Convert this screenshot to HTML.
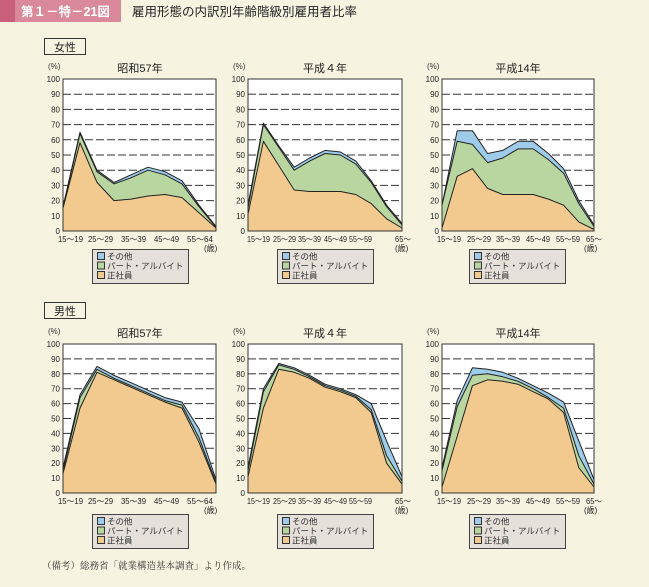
<!DOCTYPE html>
<html><head><meta charset="utf-8"><style>
body{margin:0;background:#f7f3e1;}
svg{display:block;font-family:"Liberation Sans","Noto Sans CJK JP",sans-serif;}
</style></head><body>
<svg width="649" height="587" viewBox="0 0 649 587" xmlns="http://www.w3.org/2000/svg">
<rect width="649" height="587" fill="#f7f3e1"/>
<rect x="0" y="0" width="15" height="22" fill="#c95f7a"/>
<rect x="15" y="0" width="106" height="22" fill="#d9899a"/>
<text x="21" y="16" font-size="12.5" fill="#fff" font-weight="bold">第１－特－21図</text>
<text x="132" y="16" font-size="12.5" fill="#222">雇用形態の内訳別年齢階級別雇用者比率</text>

<rect x="44.5" y="38.5" width="41" height="16" fill="none" stroke="#333"/>
<text x="65" y="51" font-size="11" text-anchor="middle" fill="#222">女性</text>
<rect x="44.5" y="302.5" width="41" height="16" fill="none" stroke="#333"/>
<text x="65" y="315" font-size="11" text-anchor="middle" fill="#222">男性</text>

<defs>
<g id="gridF" stroke="#333" stroke-width="1" stroke-dasharray="8,3">
<line x1="0" x2="153" y1="15.2" y2="15.2"/><line x1="0" x2="153" y1="30.4" y2="30.4"/><line x1="0" x2="153" y1="45.6" y2="45.6"/><line x1="0" x2="153" y1="60.8" y2="60.8"/><line x1="0" x2="153" y1="76" y2="76"/><line x1="0" x2="153" y1="91.2" y2="91.2"/><line x1="0" x2="153" y1="106.4" y2="106.4"/><line x1="0" x2="153" y1="121.6" y2="121.6"/><line x1="0" x2="153" y1="136.8" y2="136.8"/>
</g>
<g id="gridM" stroke="#333" stroke-width="1" stroke-dasharray="8,3">
<line x1="0" x2="153" y1="14.9" y2="14.9"/><line x1="0" x2="153" y1="29.8" y2="29.8"/><line x1="0" x2="153" y1="44.7" y2="44.7"/><line x1="0" x2="153" y1="59.6" y2="59.6"/><line x1="0" x2="153" y1="74.5" y2="74.5"/><line x1="0" x2="153" y1="89.4" y2="89.4"/><line x1="0" x2="153" y1="104.3" y2="104.3"/><line x1="0" x2="153" y1="119.2" y2="119.2"/><line x1="0" x2="153" y1="134.1" y2="134.1"/>
</g>
<g id="yF" font-size="8" text-anchor="end" fill="#222">
<text x="-3" y="155">0</text><text x="-3" y="140">10</text><text x="-3" y="124.6">20</text><text x="-3" y="109.4">30</text><text x="-3" y="94.2">40</text><text x="-3" y="79">50</text><text x="-3" y="63.8">60</text><text x="-3" y="48.6">70</text><text x="-3" y="33.4">80</text><text x="-3" y="18.2">90</text><text x="-3" y="3">100</text>
</g>
<g id="yM" font-size="8" text-anchor="end" fill="#222">
<text x="-3" y="152">0</text><text x="-3" y="137">10</text><text x="-3" y="122.2">20</text><text x="-3" y="107.3">30</text><text x="-3" y="92.4">40</text><text x="-3" y="77.5">50</text><text x="-3" y="62.6">60</text><text x="-3" y="47.7">70</text><text x="-3" y="32.8">80</text><text x="-3" y="17.9">90</text><text x="-3" y="3">100</text>
</g>
<g id="leg" font-size="8.5" fill="#333">
<rect x="0.5" y="0.5" width="96" height="34" fill="#e6e0db" stroke="#444"/>
<rect x="5.5" y="3.5" width="7" height="7" fill="#9ecbe9" stroke="#333"/>
<rect x="5.5" y="13" width="7" height="7" fill="#b9d6a0" stroke="#333"/>
<rect x="5.5" y="22.5" width="7" height="7" fill="#f2c98e" stroke="#333"/>
<text x="15" y="10.5">その他</text><text x="15" y="20">パート・アルバイト</text><text x="15" y="29.5">正社員</text>
</g>
<g id="x2" font-size="8" fill="#222">
<text x="0" y="0" textLength="23" lengthAdjust="spacingAndGlyphs">15～19</text>
<text x="26" y="0" textLength="23" lengthAdjust="spacingAndGlyphs">25～29</text>
<text x="51" y="0" textLength="23" lengthAdjust="spacingAndGlyphs">35～39</text>
<text x="77" y="0" textLength="23" lengthAdjust="spacingAndGlyphs">45～49</text>
<text x="102" y="0" textLength="23" lengthAdjust="spacingAndGlyphs">55～59</text>
<text x="148" y="0" textLength="16" lengthAdjust="spacingAndGlyphs">65～</text>
<text x="148" y="9">(歳)</text>
</g>
<g id="x3" font-size="8" fill="#222">
<text x="0" y="0" textLength="24" lengthAdjust="spacingAndGlyphs">15～19</text>
<text x="30" y="0" textLength="24" lengthAdjust="spacingAndGlyphs">25～29</text>
<text x="59" y="0" textLength="24" lengthAdjust="spacingAndGlyphs">35～39</text>
<text x="89" y="0" textLength="24" lengthAdjust="spacingAndGlyphs">45～49</text>
<text x="119" y="0" textLength="24" lengthAdjust="spacingAndGlyphs">55～59</text>
<text x="149" y="0" textLength="16" lengthAdjust="spacingAndGlyphs">65～</text>
<text x="147" y="9">(歳)</text>
</g>
<g id="x1" font-size="8" fill="#222">
<text x="0" y="0" textLength="25" lengthAdjust="spacingAndGlyphs">15～19</text>
<text x="30" y="0" textLength="25" lengthAdjust="spacingAndGlyphs">25～29</text>
<text x="63" y="0" textLength="25" lengthAdjust="spacingAndGlyphs">35～39</text>
<text x="96" y="0" textLength="25" lengthAdjust="spacingAndGlyphs">45～49</text>
<text x="129" y="0" textLength="26" lengthAdjust="spacingAndGlyphs">55～64</text>
<text x="146" y="9">(歳)</text>
</g>
</defs>

<!-- Female chart 1 -->
<text x="48" y="69" font-size="8" fill="#333">(%)</text>
<text x="140" y="72" font-size="11" text-anchor="middle" fill="#222">昭和57年</text>
<rect x="63" y="79" width="153" height="152" fill="#fff"/>
<use href="#gridF" x="63" y="79"/>
<g stroke="#222" stroke-width="1" stroke-linejoin="round">
<polygon fill="#9ecbe9" points="63,231 63,206.7 80,132.2 97,170.2 114,182.4 131,174.8 148,167.2 165,171.7 182,180.8 199,205.2 216,226.4 216,231"/>
<polygon fill="#b9d6a0" points="63,231 63,208.2 80,133.7 97,171.7 114,183.9 131,177.8 148,170.2 165,174.8 182,183.9 199,206.7 216,227.2 216,231"/>
<polygon fill="#f2c98e" points="63,231 63,208.2 80,142.8 97,182.4 114,200.6 131,199.1 148,196 165,194.5 182,197.6 199,212.8 216,228 216,231"/>
</g>
<rect x="63" y="79" width="153" height="152" fill="none" stroke="#333"/>
<use href="#yF" x="63" y="79"/>
<use href="#x1" x="58" y="242"/>
<use href="#leg" x="92" y="249"/>

<!-- Female chart 2 -->
<text x="233" y="69" font-size="8" fill="#333">(%)</text>
<text x="325" y="72" font-size="11" text-anchor="middle" fill="#222">平成４年</text>
<rect x="248" y="79" width="154" height="152" fill="#fff"/>
<use href="#gridF" x="248" y="79"/>
<g stroke="#222" stroke-width="1" stroke-linejoin="round">
<polygon fill="#9ecbe9" points="248,231 248,205.2 263.4,123.1 278.8,145.9 294.2,167.2 309.6,158 325,150.4 340.4,152 355.8,161.1 371.2,180.8 386.6,205.2 402,223.4 402,231"/>
<polygon fill="#b9d6a0" points="248,231 248,208.2 263.4,124.6 278.8,147.4 294.2,170.2 309.6,161.1 325,153.5 340.4,155 355.8,164.1 371.2,182.4 386.6,206.7 402,224.9 402,231"/>
<polygon fill="#f2c98e" points="248,231 248,214.3 263.4,141.3 278.8,165.6 294.2,190 309.6,191.5 325,191.5 340.4,191.5 355.8,194.5 371.2,203.6 386.6,218.8 402,228 402,231"/>
</g>
<rect x="248" y="79" width="154" height="152" fill="none" stroke="#333"/>
<use href="#yF" x="248" y="79"/>
<use href="#x2" x="247" y="242"/>
<use href="#leg" x="277" y="249"/>

<!-- Female chart 3 -->
<text x="427" y="69" font-size="8" fill="#333">(%)</text>
<text x="518" y="72" font-size="11" text-anchor="middle" fill="#222">平成14年</text>
<rect x="442" y="79" width="152" height="152" fill="#fff"/>
<use href="#gridF" x="442" y="79"/>
<g stroke="#222" stroke-width="1" stroke-linejoin="round">
<polygon fill="#9ecbe9" points="442,231 442,205.2 457.2,130.7 472.4,130.7 487.6,153.5 502.8,150.4 518,141.3 533.2,141.3 548.4,153.5 563.6,168.7 578.8,200.6 594,224.9 594,231"/>
<polygon fill="#b9d6a0" points="442,231 442,205.2 457.2,141.3 472.4,144.4 487.6,162.6 502.8,158 518,148.9 533.2,148.9 548.4,159.6 563.6,173.2 578.8,203.6 594,226.4 594,231"/>
<polygon fill="#f2c98e" points="442,231 442,228 457.2,176.3 472.4,168.7 487.6,188.4 502.8,194.5 518,194.5 533.2,194.5 548.4,199.1 563.6,205.2 578.8,221.9 594,229.5 594,231"/>
</g>
<rect x="442" y="79" width="152" height="152" fill="none" stroke="#333"/>
<use href="#yF" x="442" y="79"/>
<use href="#x3" x="437" y="242"/>
<use href="#leg" x="469" y="249"/>

<!-- Male chart 1 -->
<text x="48" y="334" font-size="8" fill="#333">(%)</text>
<text x="140" y="337" font-size="11" text-anchor="middle" fill="#222">昭和57年</text>
<rect x="63" y="344" width="153" height="149" fill="#fff"/>
<use href="#gridM" x="63" y="344"/>
<g stroke="#222" stroke-width="1" stroke-linejoin="round">
<polygon fill="#9ecbe9" points="63,493 63,467.7 80,394.7 97,366.4 114,375.3 131,382.7 148,390.2 165,397.6 182,402.1 199,428.9 216,479.6 216,493"/>
<polygon fill="#b9d6a0" points="63,493 63,470.7 80,397.6 97,369.3 114,378.3 131,385.7 148,393.2 165,400.6 182,405.1 199,437.9 216,482.6 216,493"/>
<polygon fill="#f2c98e" points="63,493 63,473.6 80,408.1 97,372.3 114,379.8 131,387.2 148,394.7 165,402.1 182,408.1 199,442.3 216,484.1 216,493"/>
</g>
<rect x="63" y="344" width="153" height="149" fill="none" stroke="#333"/>
<use href="#yM" x="63" y="344"/>
<use href="#x1" x="58" y="504"/>
<use href="#leg" x="92" y="514"/>

<!-- Male chart 2 -->
<text x="233" y="334" font-size="8" fill="#333">(%)</text>
<text x="325" y="337" font-size="11" text-anchor="middle" fill="#222">平成４年</text>
<rect x="248" y="344" width="154" height="149" fill="#fff"/>
<use href="#gridM" x="248" y="344"/>
<g stroke="#222" stroke-width="1" stroke-linejoin="round">
<polygon fill="#9ecbe9" points="248,493 248,467.7 263.4,388.7 278.8,363.4 294.2,367.8 309.6,375.3 325,384.2 340.4,388.7 355.8,394.7 371.2,403.6 386.6,440.9 402,476.6 402,493"/>
<polygon fill="#b9d6a0" points="248,493 248,470.7 263.4,391.7 278.8,364.9 294.2,369.3 309.6,376.8 325,385.7 340.4,390.2 355.8,396.2 371.2,409.6 386.6,455.8 402,481.1 402,493"/>
<polygon fill="#f2c98e" points="248,493 248,476.6 263.4,408.1 278.8,369.3 294.2,372.3 309.6,378.3 325,387.2 340.4,391.7 355.8,397.6 371.2,412.5 386.6,463.2 402,484.1 402,493"/>
</g>
<rect x="248" y="344" width="154" height="149" fill="none" stroke="#333"/>
<use href="#yM" x="248" y="344"/>
<use href="#x2" x="247" y="504"/>
<use href="#leg" x="277" y="514"/>

<!-- Male chart 3 -->
<text x="427" y="334" font-size="8" fill="#333">(%)</text>
<text x="518" y="337" font-size="11" text-anchor="middle" fill="#222">平成14年</text>
<rect x="442" y="344" width="152" height="149" fill="#fff"/>
<use href="#gridM" x="442" y="344"/>
<g stroke="#222" stroke-width="1" stroke-linejoin="round">
<polygon fill="#9ecbe9" points="442,493 442,467.7 457.2,400.6 472.4,367.8 487.6,369.3 502.8,372.3 518,378.3 533.2,385.7 548.4,393.2 563.6,402.1 578.8,440.9 594,479.6 594,493"/>
<polygon fill="#b9d6a0" points="442,493 442,470.7 457.2,406.6 472.4,375.3 487.6,373.8 502.8,376.8 518,381.3 533.2,388.7 548.4,397.6 563.6,408.1 578.8,455.8 594,484.1 594,493"/>
<polygon fill="#f2c98e" points="442,493 442,487 457.2,436.4 472.4,385.7 487.6,379.8 502.8,381.3 518,384.2 533.2,391.7 548.4,399.1 563.6,412.5 578.8,467.7 594,487 594,493"/>
</g>
<rect x="442" y="344" width="152" height="149" fill="none" stroke="#333"/>
<use href="#yM" x="442" y="344"/>
<use href="#x3" x="437" y="504"/>
<use href="#leg" x="469" y="514"/>

<text x="42" y="569" font-size="9.5" fill="#333" font-family="'Liberation Serif','Noto Serif CJK SC',serif">（備考）総務省「就業構造基本調査」より作成。</text>
</svg>
</body></html>
